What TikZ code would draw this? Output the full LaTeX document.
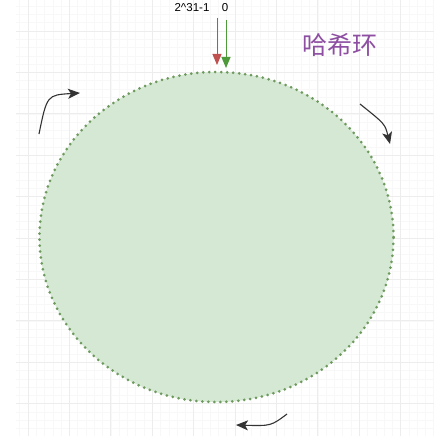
\documentclass[tikz,border=0pt]{standalone}
\usepackage{fontspec}
\setmainfont{Liberation Sans}
\newfontfamily\cjk{Noto Sans CJK SC}
\usetikzlibrary{arrows.meta,shapes.geometric}
\definecolor{ringfill}{HTML}{D5E8D4}
\definecolor{ringline}{HTML}{6E9A5E}
\definecolor{redline}{HTML}{C0504D}
\definecolor{greenline}{HTML}{4E9A3A}
\definecolor{titlecol}{HTML}{8E4FA2}
\definecolor{minorgrid}{HTML}{F8F8F8}
\definecolor{majorgrid}{HTML}{EDEDED}
\definecolor{curvecol}{HTML}{333333}
\tikzset{
  ringshape/.style={ellipse, draw=ringline, fill=ringfill, line width=3pt,
    dash pattern=on 0pt off 6pt, line cap=round,
    minimum width=354pt, minimum height=330pt, inner sep=0pt},
  vertarrow/.style={line width=1pt, -{Triangle[length=11pt,width=9pt]}},
  turnarrow/.style={draw=curvecol, line width=1.1pt, -{Stealth[length=12pt,width=10pt,inset=3pt]}},
  labeltext/.style={font=\fontsize{11.5}{13}\selectfont, inner sep=0pt},
  titletext/.style={font=\cjk\fontsize{25}{28}\selectfont, text=titlecol, inner sep=0pt}
}
\begin{document}
\begin{tikzpicture}[x=1pt,y=-1pt]
\useasboundingbox (0,0) rectangle (434,436);
\fill[white] (0,0) rectangle (434,436);
% grid
\foreach \k in {-1,...,50} {
  \pgfmathsetmacro{\xx}{28+8.28*\k}
  \ifdim \xx pt<434pt \draw[minorgrid, line width=0.5pt] (\xx,0) -- (\xx,436); \fi
}
\foreach \k in {-3,...,49} {
  \pgfmathsetmacro{\yy}{31+8.28*\k}
  \draw[minorgrid, line width=0.5pt] (16,\yy) -- (434,\yy);
}
\foreach \k in {0,...,9} {
  \pgfmathsetmacro{\xx}{28+41.4*\k}
  \draw[majorgrid, line width=0.7pt] (\xx,0) -- (\xx,436);
}
\foreach \k in {0,...,9} {
  \pgfmathsetmacro{\yy}{31+41.4*\k}
  \draw[majorgrid, line width=0.7pt] (16,\yy) -- (434,\yy);
}
% ring
\node[ringshape] (ring) at (216.5,237) {};
% labels
\node[labeltext] (maxlabel) at (192,8) {2\textasciicircum 31-1};
\node[labeltext] (zerolabel) at (225,8) {0};
\node[titletext] (title) at (340,45) {哈希环};
% vertical arrows
\coordinate (rtop) at (217,18);
\coordinate (rtip) at (217,65);
\coordinate (gtop) at (226,20);
\coordinate (gtip) at (226,68);
\draw[vertarrow, draw=redline, fill=redline] (rtop) -- (rtip);
\draw[vertarrow, draw=greenline, fill=greenline] (gtop) -- (gtip);
% rotation arrows
\coordinate (a0) at (39,134);
\coordinate (a1) at (47,95);
\coordinate (a2) at (80,93);
\draw[turnarrow] (a0) .. controls (a1) .. (a2);
\coordinate (b0) at (360,104);
\coordinate (b1) at (385,124);
\coordinate (b2) at (390,144);
\draw[turnarrow] (b0) .. controls (b1) .. (b2);
\coordinate (c0) at (287,414);
\coordinate (c1) at (271,426);
\coordinate (c2) at (236,425);
\draw[turnarrow] (c0) .. controls (c1) .. (c2);
\end{tikzpicture}
\end{document}
